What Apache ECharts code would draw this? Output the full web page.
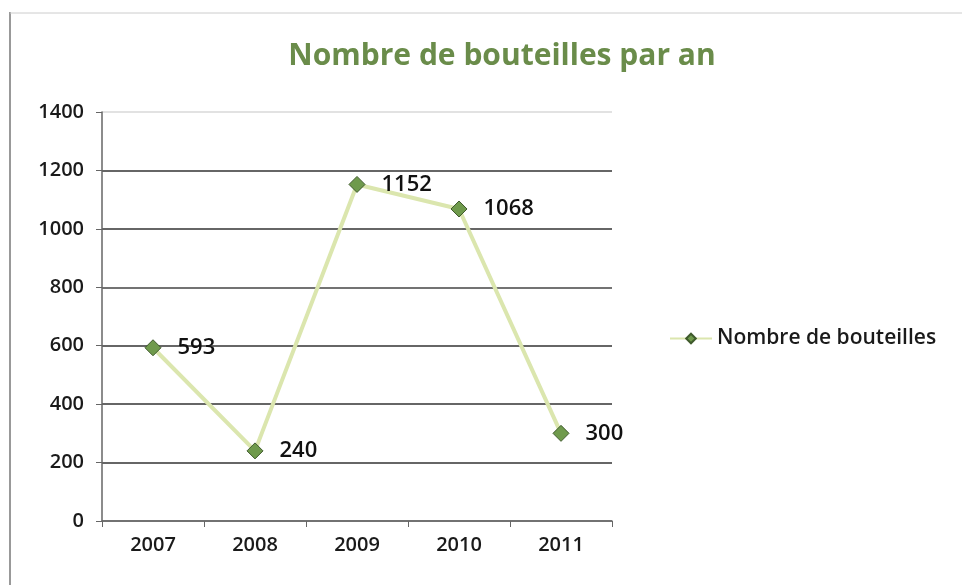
<!DOCTYPE html>
<html>
<head>
<meta charset="utf-8">
<title>Nombre de bouteilles par an</title>
<script src="https://cdn.jsdelivr.net/npm/echarts@6/dist/echarts.min.js"></script>
<style>
  html, body { margin: 0; padding: 0; background: #fff; }
  #chart { width: 962px; height: 585px; }
</style>
</head>
<body>
<div id="chart"></div>
<script type="text/javascript">
var years = ['2007', '2008', '2009', '2010', '2011'];
var bouteilles = [593, 240, 1152, 1068, 300];
var yTicks = [0, 200, 400, 600, 800, 1000, 1200, 1400];

var font = '"Open Sans", Lato, sans-serif';
var myChart = echarts.init(document.getElementById('chart'));
var option = {
    backgroundColor: '#fff',
    animation: false,
    title: {
        text: 'Nombre de bouteilles par an',
        left: 497,
        top: 36,
        textAlign: 'center',
        textStyle: { color: '#6a8c4a', fontSize: 30, fontWeight: 'bold', fontFamily: font }
    },
    legend: {
        data: ['Nombre de bouteilles'],
        left: 664,
        top: 323,
        itemWidth: 42,
        itemHeight: 12,
        itemGap: 6,
        textStyle: { color: '#1a1a1a', fontSize: 21, fontWeight: 600, fontFamily: font }
    },
    grid: { left: 102, right: 350, top: 112, bottom: 64 },
    xAxis: {
        type: 'category',
        data: years,
        boundaryGap: true,
        axisLine: { lineStyle: { color: '#666', width: 1.5 } },
        axisTick: { show: true, alignWithLabel: false, length: 6, lineStyle: { color: '#666' } },
        axisLabel: { color: '#1a1a1a', fontSize: 20, fontWeight: 600, fontFamily: font, margin: 14 }
    },
    yAxis: {
        type: 'value',
        min: yTicks[0],
        max: yTicks[yTicks.length - 1],
        interval: 200,
        axisLine: { show: true, lineStyle: { color: '#666', width: 1.5 } },
        axisTick: { show: true, length: 6, lineStyle: { color: '#666' } },
        axisLabel: {
            color: '#1a1a1a', fontSize: 20, fontWeight: 600, fontFamily: font, margin: 18,
            formatter: function (v) { return String(v); }
        },
        splitLine: {
            lineStyle: {
                color: ['#777', '#333', '#333', '#333', '#444', '#333', '#333', '#d8d8d8'],
                width: 1.5
            }
        }
    },
    graphic: [
        { type: 'line', shape: { x1: 10, y1: 12, x2: 10, y2: 585 }, style: { stroke: '#999', lineWidth: 2 } },
        { type: 'line', shape: { x1: 10, y1: 13, x2: 962, y2: 13 }, style: { stroke: '#ccc', lineWidth: 1 } }
    ],
    series: [
        {
            name: 'Nombre de bouteilles',
            type: 'line',
            data: bouteilles,
            symbol: 'diamond',
            symbolSize: 16,
            lineStyle: { color: '#dbe6ae', width: 4 },
            itemStyle: { color: '#6f9a4c', borderColor: '#3f5a2c', borderWidth: 1 },
            label: {
                show: true,
                position: 'right',
                distance: 16,
                color: '#111',
                fontSize: 22,
                fontWeight: 600,
                fontFamily: font
            }
        }
    ]
};
myChart.setOption(option);
</script>
</body>
</html>
